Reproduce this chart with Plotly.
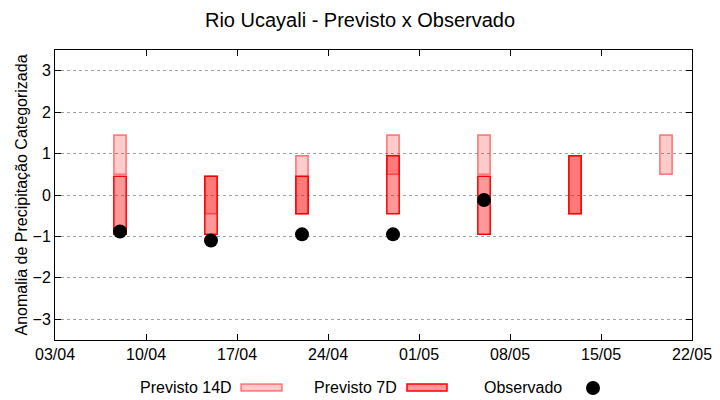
import plotly.graph_objects as go

# ---- data ----
dates = ["2023-04-08", "2023-04-15", "2023-04-22", "2023-04-29",
         "2023-05-06", "2023-05-13", "2023-05-20"]
prev14_low = [0.5, -0.45, -0.45, 0.5, 0.5, -0.45, 0.5]
prev14_high = [1.45, 0.45, 0.95, 1.45, 1.45, 0.95, 1.45]
prev7_low = [-0.95, -0.95, -0.45, -0.45, -0.95, -0.45, None]
prev7_high = [0.45, 0.45, 0.45, 0.95, 0.45, 0.95, None]
observado = [-0.88, -1.1, -0.95, -0.95, -0.12, None, None]

x_ticks = ["2023-04-03", "2023-04-10", "2023-04-17", "2023-04-24",
           "2023-05-01", "2023-05-08", "2023-05-15", "2023-05-22"]
x_tick_labels = ["03/04", "10/04", "17/04", "24/04", "01/05", "08/05", "15/05", "22/05"]
y_ticks = [-3, -2, -1, 0, 1, 2, 3]

FONT = "Liberation Sans, Arial, sans-serif"
C14_FILL = "rgba(255,0,0,0.2)"
C14_LINE = "rgba(255,0,0,0.5)"
C7_FILL = "rgba(255,0,0,0.4)"
C7_LINE = "rgb(255,0,0)"
DAY = 86400000

def heights(lo, hi):
    return [None if (a is None or b is None) else b - a for a, b in zip(lo, hi)]

fig = go.Figure()
fig.add_trace(go.Bar(
    x=dates, y=heights(prev14_low, prev14_high), base=prev14_low,
    width=DAY * 0.95, name="Previsto 14D", showlegend=False,
    marker=dict(color=C14_FILL, line=dict(color=C14_LINE, width=1.5)),
))
fig.add_trace(go.Bar(
    x=dates, y=heights(prev7_low, prev7_high), base=prev7_low,
    width=DAY * 0.95, name="Previsto 7D", showlegend=False,
    marker=dict(color=C7_FILL, line=dict(color=C7_LINE, width=1.5)),
))
fig.add_trace(go.Scatter(
    x=dates, y=observado, mode="markers", name="Observado", showlegend=False,
    marker=dict(color="black", size=14),
))

# ---- legend drawn gnuplot-style (text then sample) ----
W, H = 720, 400
L, R, T, B = 55, 28, 50, 60
pw, ph = W - L - R, H - T - B

def px(x):
    return (x - L) / pw

def py(y):
    return (H - B - y) / ph

legend_items = [
    ("Previsto 14D", 234, (241, 282), C14_FILL, C14_LINE, "box"),
    ("Previsto 7D", 399, (407, 447), C7_FILL, C7_LINE, "box"),
    ("Observado", 564, (593, 593), "black", "black", "dot"),
]
annotations = []
shapes = []
ly = 387
for text, tx, (sx0, sx1), fill, line, kind in legend_items:
    annotations.append(dict(
        text=text, xref="paper", yref="paper", x=px(tx), y=py(ly),
        xanchor="right", yanchor="middle", showarrow=False,
        font=dict(family=FONT, size=16, color="black"),
    ))
    if kind == "box":
        shapes.append(dict(
            type="rect", xref="paper", yref="paper",
            x0=px(sx0), x1=px(sx1), y0=py(ly + 4), y1=py(ly - 3),
            fillcolor=fill, line=dict(color=line, width=1.5),
        ))
    else:
        shapes.append(dict(
            type="circle", xref="paper", yref="paper",
            x0=px(sx0 - 7), x1=px(sx0 + 7), y0=py(ly + 8), y1=py(ly - 6),
            fillcolor=fill, line=dict(color=line, width=0),
        ))

fig.update_layout(
    width=W, height=H,
    margin=dict(l=L, r=R, t=T, b=B),
    paper_bgcolor="white", plot_bgcolor="white",
    barmode="overlay",
    font=dict(family=FONT, size=16, color="black"),
    title=dict(text="Rio Ucayali - Previsto x Observado", x=0.5, xref="container",
               y=1 - 20 / H, yanchor="middle", xanchor="center",
               font=dict(family=FONT, size=20, color="black")),
    showlegend=False,
    annotations=annotations,
    shapes=shapes,
)
fig.update_xaxes(
    type="date", range=["2023-04-03", "2023-05-22"],
    tickvals=x_ticks, ticktext=x_tick_labels,
    showgrid=False, zeroline=False, automargin=False,
    showline=True, linecolor="black", linewidth=1, mirror="ticks",
    ticks="inside", ticklen=6, tickcolor="black",
    tickfont=dict(family=FONT, size=16, color="black"),
)
fig.update_yaxes(
    range=[-3.5, 3.5], tickvals=y_ticks,
    showgrid=True, gridcolor="#a0a0a0", griddash="dot", gridwidth=1,
    zeroline=False, automargin=False,
    showline=True, linecolor="black", linewidth=1, mirror="ticks",
    ticks="inside", ticklen=6, tickcolor="black",
    tickfont=dict(family=FONT, size=16, color="black"),
    title=dict(text="Anomalia de Precipitação Categorizada", standoff=0,
               font=dict(family=FONT, size=16, color="black")),
)

fig.write_html("out.html", config={"displayModeBar": False},
               post_script="document.body.style.margin='0';document.body.style.overflow='hidden';")
